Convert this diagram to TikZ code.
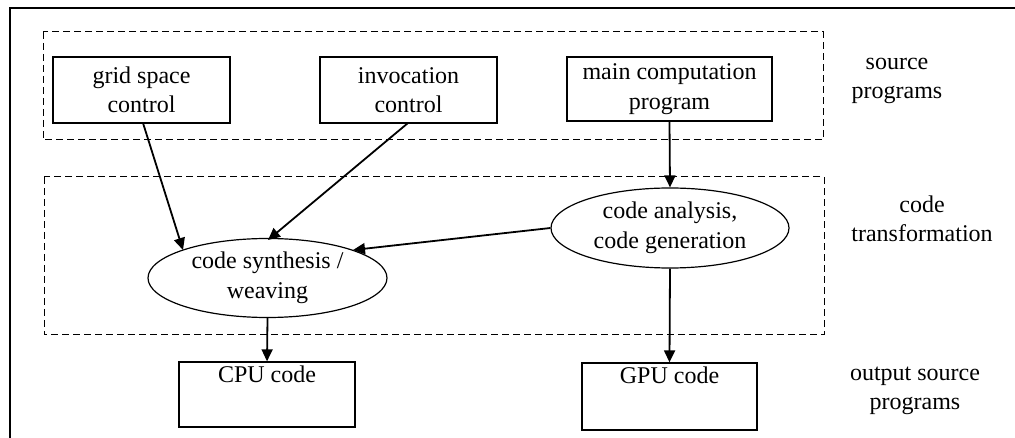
\documentclass[tikz,border=0pt]{standalone}
\usepackage{fontspec}
\setmainfont{Liberation Serif}
\usetikzlibrary{arrows.meta,shapes.geometric}
\begin{document}
\begin{tikzpicture}[x=1pt,y=-1pt,
  every node/.style={font=\fontsize{24}{29.5}\selectfont, align=center, inner sep=0pt},
  srcbox/.style={draw, line width=1.3pt, minimum width=177pt, minimum height=66pt},
  outbox/.style={draw, line width=1.3pt, minimum width=176pt, minimum height=66pt},
  proc/.style={draw, ellipse, line width=1.2pt, minimum width=239pt, minimum height=79pt},
  group/.style={draw, dashed, dash pattern=on 7pt off 4pt, line width=1pt},
  flow/.style={line width=1.8pt, -{Triangle[length=12pt,width=11pt]}}]
\useasboundingbox (0,0) rectangle (1015,438);
\draw[line width=2pt] (10,438) -- (10,8.5) -- (1015,8.5);
% groups
\draw[group] (43,32) rectangle (823,140);
\draw[group] (44,177) rectangle (824,335);
% source boxes
\node[srcbox] (grid) at (141.5,90) {grid space\\control};
\node[srcbox] (inv) at (408.5,90) {invocation\\control};
\node[srcbox, minimum width=205pt, minimum height=64pt] (main) at (669.5,89) {main computation\\program};
% processes
\node[proc] (syn) at (267.5,278) {code synthesis /\\weaving};
\node[proc, minimum width=238pt, minimum height=80pt] (ana) at (670,228) {code analysis,\\code generation};
% outputs
\node[outbox, minimum height=65pt] (cpu) at (267,394.5) {};
\node[anchor=north] (cputext) at (cpu.north) {\strut CPU code};
\node[outbox, minimum width=175pt, minimum height=67pt] (gpu) at (669.5,396.5) {};
\node[anchor=north] (gputext) at (gpu.north) {\strut GPU code};
% side labels
\node (l1) at (897,81) {source\\programs};
\node (l2) at (922,219) {code\\transformation};
\node (l3) at (915,391) {output source\\programs};
% connectors
\draw[flow] (143,123) -- (183,250);
\draw[flow] (408,123) -- (268,240);
\draw[flow] (main.south) -- (ana.north);
\draw[flow] (ana.west) -- (353,250);
\draw[flow] (syn.south) -- (cpu.north);
\draw[flow] (ana.south) -- (gpu.north);
\end{tikzpicture}
\end{document}
